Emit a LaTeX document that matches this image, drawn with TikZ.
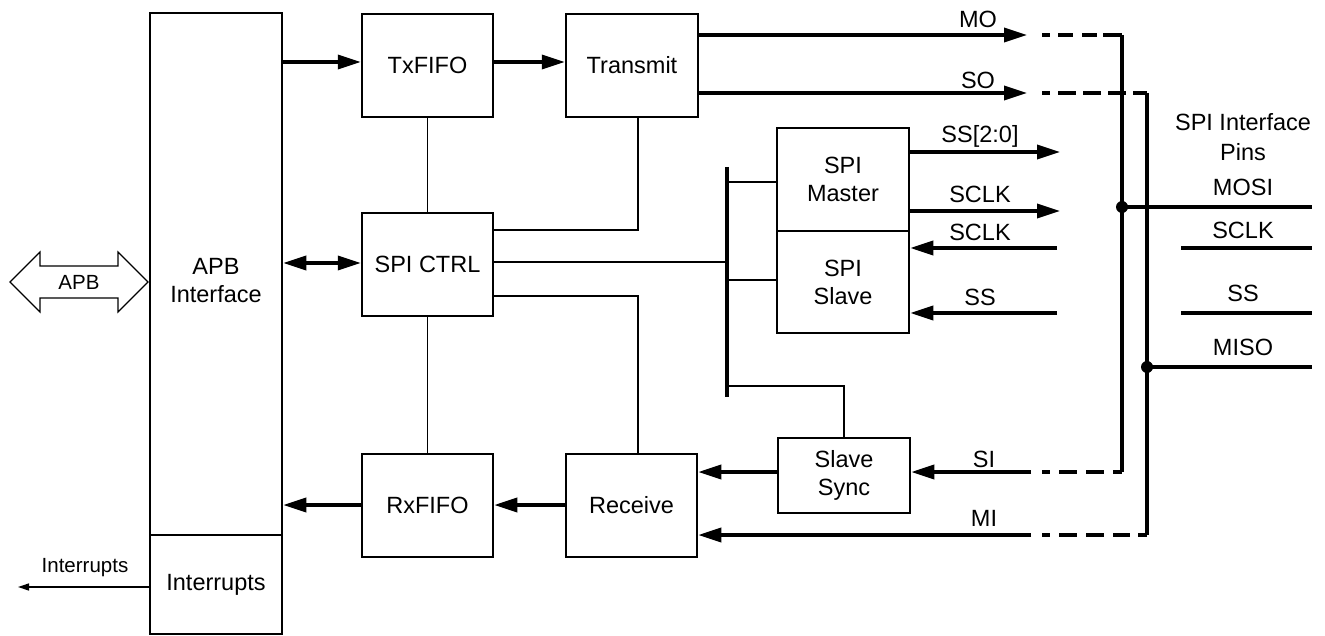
\documentclass[tikz,border=0pt]{standalone}
\usepackage{fontspec}
\setmainfont{Liberation Sans}
\usetikzlibrary{arrows.meta,calc}
\begin{document}
\begin{tikzpicture}[x=1pt,y=-1pt,
  box/.style={draw,line width=2.5pt,inner sep=0pt,align=center,font=\fontsize{23.5}{28}\selectfont},
  txt/.style={inner sep=0pt,align=center,font=\fontsize{23.5}{28}\selectfont},
  thinline/.style={line width=1.3pt},
  busline/.style={line width=4pt},
  sig/.style={line width=3.5pt,-{Triangle[length=23pt,width=14pt]}},
  dsig/.style={line width=3.5pt,{Triangle[length=23pt,width=14pt]}-{Triangle[length=23pt,width=14pt]}},
  lab/.style={inner sep=0pt,text height=17pt,text depth=0pt,font=\fontsize{23.5}{28}\selectfont},
  smalllab/.style={inner sep=0pt,text height=14.5pt,text depth=0pt,font=\fontsize{20.5}{24}\selectfont},
  dashA/.style={line width=3.5pt,dash pattern=on 0pt off 15pt on 8pt off 8pt on 15pt off 9pt on 15pt off 6pt on 60pt},
  dashB/.style={line width=3.5pt,dash pattern=on 0pt off 15pt on 8pt off 8pt on 18pt off 7pt on 18pt off 7pt on 18pt off 7pt on 60pt},
  dashC/.style={line width=3.5pt,dash pattern=on 0pt off 11pt on 8pt off 9pt on 18pt off 9pt on 18pt off 9pt on 17pt off 8pt on 60pt},
]
\useasboundingbox (0,0) rectangle (1325,636);

% boxes
\node[box,minimum width=132pt,minimum height=522pt] (apb) at (216,274) {};
\node[txt] (apbtxt) at (216,281) {APB\\Interface};
\node[box,minimum width=132pt,minimum height=99pt] (intr) at (216,584.5) {Interrupts};
\node[box,minimum width=131pt,minimum height=103pt] (txfifo) at (427.5,65.5) {TxFIFO};
\node[box,minimum width=132pt,minimum height=103pt] (transmit) at (632,65.5) {Transmit};
\node[box,minimum width=131pt,minimum height=103pt] (ctrl) at (427.5,264.5) {SPI CTRL};
\node[box,minimum width=131pt,minimum height=103pt] (rxfifo) at (427.5,505.5) {RxFIFO};
\node[box,minimum width=131pt,minimum height=103pt] (receive) at (631.5,505.5) {Receive};
\node[box,minimum width=132pt,minimum height=103pt] (master) at (843,179.5) {SPI\\Master};
\node[box,minimum width=132pt,minimum height=102pt] (slave) at (843,282) {SPI\\Slave};
\node[box,minimum width=132pt,minimum height=75pt] (sync) at (844,475.5) {Slave\\Sync};

% row / column helpers
\coordinate (yTx) at (0,62);
\coordinate (yCt) at (0,263);
\coordinate (yRx) at (0,505);
\coordinate (yT) at (0,230);
\coordinate (yB) at (0,296);
\coordinate (yMid) at (0,262);
\coordinate (yM) at (0,182);
\coordinate (yS) at (0,280);
\coordinate (yBus) at (0,386);
\coordinate (yInt) at (0,587);
\coordinate (x638) at (638,0);

% APB hollow double arrow
\draw[line width=1.2pt] (10,282) -- (40,252) -- (40,266) -- (118,266) -- (118,252) -- (148,282)
  -- (118,312) -- (118,298) -- (40,298) -- (40,312) -- cycle;
\node[smalllab] (apblab) at (79,282) {APB};

% interrupts
\coordinate (intTip) at (18,587);
\draw[thinline,-{Triangle[length=11pt,width=7pt]}] (intr.west |- intTip) -- (intTip);
\node[smalllab] (intlab) at (85,565) {Interrupts};

% main data path
\draw[sig] (apb.east |- yTx) -- (txfifo.west |- yTx);
\draw[sig] (txfifo.east |- yTx) -- (transmit.west |- yTx);
\draw[dsig] (apb.east |- yCt) -- (ctrl.west |- yCt);
\draw[sig] (rxfifo.west |- yRx) -- (apb.east |- yRx);
\draw[sig] (receive.west |- yRx) -- (rxfifo.east |- yRx);

% control lines
\draw[thinline] (txfifo.south) -- (ctrl.north);
\draw[thinline] (ctrl.south) -- (rxfifo.north);
\draw[thinline] (transmit.south -| x638) |- (ctrl.east |- yT);
\draw[thinline] (ctrl.east |- yB) -| (receive.north -| x638);

% bus
\coordinate (bustop) at (727,167);
\coordinate (busbot) at (727,397);
\draw[busline] (bustop) -- (busbot);
\draw[thinline] (ctrl.east |- yMid) -- (bustop |- yMid);
\draw[thinline] (bustop |- yM) -- (master.west |- yM);
\draw[thinline] (bustop |- yS) -- (slave.west |- yS);
\draw[thinline] (bustop |- yBus) -| (sync.north);

% master / slave signals
\coordinate (ssTip) at (1060,152);
\coordinate (sckTip) at (1060,211);
\coordinate (sckIn) at (1057,248);
\coordinate (ssIn) at (1057,313);
\draw[sig] (master.east |- ssTip) -- (ssTip);
\draw[sig] (master.east |- sckTip) -- (sckTip);
\draw[sig] (sckIn) -- (slave.east |- sckIn);
\draw[sig] (ssIn) -- (slave.east |- ssIn);

% MO / SO
\coordinate (moTip) at (1027,35);
\coordinate (soTip) at (1027,93);
\coordinate (pinA1) at (1122,35);
\coordinate (pinA2) at (1122,472);
\coordinate (pinB1) at (1147,93);
\coordinate (pinB2) at (1147,535);
\draw[sig] (transmit.east |- moTip) -- (moTip);
\draw[sig] (transmit.east |- soTip) -- (soTip);
\draw[dashA] (moTip) -- (pinA1);
\draw[dashB] (soTip) -- (pinB1);

% SI / MI
\coordinate (siEnd) at (1031,472);
\coordinate (miEnd) at (1031,535);
\draw[sig] (siEnd) -- (sync.east |- siEnd);
\draw[sig] (sync.west |- siEnd) -- (receive.east |- siEnd);
\draw[sig] (miEnd) -- (receive.east |- miEnd);
\draw[dashC] (siEnd) -- (pinA2);
\draw[dashC] (miEnd) -- (pinB2);

% pin verticals
\draw[busline,line cap=square] (pinA1) -- (pinA2);
\draw[busline,line cap=square] (pinB1) -- (pinB2);

% pins
\coordinate (mosiJ) at (1122,207);
\coordinate (mosiE) at (1312,207);
\coordinate (misoJ) at (1147,367);
\coordinate (misoE) at (1312,367);
\coordinate (sclkS) at (1181,248);
\coordinate (sclkE) at (1312,248);
\coordinate (ssS) at (1181,313);
\coordinate (ssE) at (1312,313);
\draw[line width=3.5pt] (mosiJ) -- (mosiE);
\draw[line width=3.5pt] (misoJ) -- (misoE);
\draw[line width=3.5pt] (sclkS) -- (sclkE);
\draw[line width=3.5pt] (ssS) -- (ssE);
\fill (mosiJ) circle (6pt);
\fill (misoJ) circle (6pt);

% labels
\node[lab] (lmo) at (978,19) {MO};
\node[lab] (lso) at (978,80) {SO};
\node[lab] (lss) at (980,134) {SS[2:0]};
\node[lab] (lsck) at (980,194) {SCLK};
\node[lab] (lscki) at (980,232) {SCLK};
\node[lab] (lssi) at (980,297) {SS};
\node[lab] (lsi) at (984,459) {SI};
\node[lab] (lmi) at (984,518) {MI};
\node[txt,font=\fontsize{23.5}{30}\selectfont] (lpins) at (1243,137) {SPI Interface\\Pins};
\node[lab] (lmosi) at (1243,187) {MOSI};
\node[lab] (lsclk) at (1243,230) {SCLK};
\node[lab] (lsspin) at (1243,293) {SS};
\node[lab] (lmiso) at (1243,347) {MISO};
\end{tikzpicture}
\end{document}
